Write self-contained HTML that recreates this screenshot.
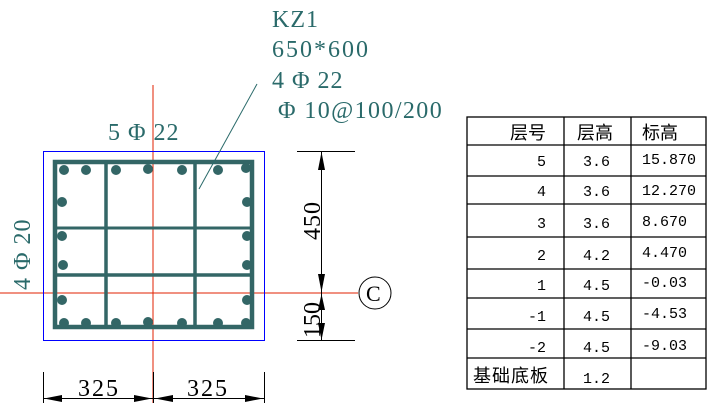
<!DOCTYPE html>
<html><head><meta charset="utf-8"><style>
html,body{margin:0;padding:0;background:#fff;}
svg{display:block;}
.t{font-family:"Liberation Serif","Noto Serif CJK SC",serif;fill:#2a6a6a;}
.m{font-family:"Liberation Mono","Noto Sans CJK SC",monospace;font-size:15px;fill:#000;}
.c{font-family:"Noto Sans CJK SC","WenQuanYi Zen Hei",sans-serif;font-size:18px;fill:#000;}
</style></head><body>
<svg width="717" height="403" viewBox="0 0 717 403">
<line x1="153" y1="85" x2="153" y2="403" stroke="#e02000" stroke-width="1"/>
<line x1="0" y1="293" x2="358" y2="293" stroke="#e02000" stroke-width="1"/>
<rect x="43.5" y="151.5" width="221" height="189" fill="none" stroke="#0000ff" stroke-width="1"/>
<g stroke="#336666" fill="none">
<rect x="55" y="162" width="197" height="165" stroke-width="4.5"/>
<line x1="106" y1="162" x2="106" y2="327" stroke-width="3.5"/>
<line x1="195" y1="162" x2="195" y2="327" stroke-width="3.5"/>
<line x1="55" y1="228" x2="252" y2="228" stroke-width="3"/>
<line x1="55" y1="275" x2="252" y2="275" stroke-width="3.5"/>
</g>
<g fill="#336666">
<circle cx="64" cy="170" r="5"/><circle cx="86" cy="170" r="5"/><circle cx="116" cy="170" r="5"/><circle cx="148" cy="169" r="5"/><circle cx="182" cy="170" r="5"/><circle cx="218" cy="170" r="5"/><circle cx="246" cy="168" r="5"/>
<circle cx="64" cy="323" r="5"/><circle cx="86" cy="323" r="5"/><circle cx="116" cy="323" r="5"/><circle cx="148" cy="322" r="5"/><circle cx="182" cy="323" r="5"/><circle cx="218" cy="323" r="5"/><circle cx="246" cy="323" r="5"/>
<circle cx="62" cy="202" r="5"/><circle cx="62" cy="236" r="5"/><circle cx="63" cy="265" r="5"/><circle cx="62" cy="300" r="5"/>
<circle cx="247" cy="202" r="5"/><circle cx="247" cy="236" r="5"/><circle cx="247" cy="265" r="5"/><circle cx="247" cy="300" r="5"/>
</g>
<line x1="257" y1="84" x2="199" y2="189" stroke="#2a6a6a" stroke-width="1"/>
<text class="t" x="272" y="27" font-size="24" letter-spacing="1">KZ1</text>
<text class="t" x="272" y="57" font-size="24" letter-spacing="2">650*600</text>
<text class="t" x="272" y="88" font-size="24" letter-spacing="1">4 Φ 22</text>
<text class="t" x="278" y="118" font-size="24" letter-spacing="1.4">Φ 10@100/200</text>
<text class="t" x="108" y="140" font-size="24" letter-spacing="1">5 Φ 22</text>
<text class="t" transform="translate(30,290) rotate(-90)" font-size="24" letter-spacing="1">4 Φ 20</text>
<g stroke="#000" stroke-width="1">
<line x1="297" y1="151.5" x2="355" y2="151.5"/>
<line x1="297" y1="340.5" x2="355" y2="340.5"/>
<line x1="321.5" y1="151" x2="321.5" y2="340"/>
<line x1="43.5" y1="372" x2="43.5" y2="403"/>
<line x1="153.5" y1="372" x2="153.5" y2="403"/>
<line x1="264.5" y1="372" x2="264.5" y2="403"/>
<line x1="43" y1="398.5" x2="264" y2="398.5"/>
</g>
<g fill="#000">
<polygon points="321.5,152 318,170 325,170"/>
<polygon points="321.5,292 318,274 325,274"/>
<polygon points="321.5,294 318,310 325,310"/>
<polygon points="321.5,340 318,323 325,323"/>
<polygon points="44,398.5 62,395 62,402"/>
<polygon points="152,398.5 134,395 134,402"/>
<polygon points="155,398.5 173,395 173,402"/>
<polygon points="263,398.5 245,395 245,402"/>
</g>
<text class="t" transform="translate(320,240) rotate(-90)" font-size="24" letter-spacing="1" style="fill:#000">450</text>
<text class="t" transform="translate(320,338) rotate(-90)" font-size="24" style="fill:#000">150</text>
<text class="t" x="78" y="396" font-size="24" letter-spacing="2" style="fill:#000">325</text>
<text class="t" x="187" y="396" font-size="24" letter-spacing="2" style="fill:#000">325</text>
<circle cx="375" cy="293" r="16" fill="#fff" stroke="#000" stroke-width="1"/>
<text class="t" x="366" y="301" font-size="22" style="fill:#000">C</text>
<g stroke="#000" stroke-width="1.3" fill="none">
<rect x="467" y="117" width="239" height="272"/>
<line x1="564" y1="117" x2="564" y2="389"/>
<line x1="631" y1="117" x2="631" y2="389"/>
<line x1="467" y1="145" x2="706" y2="145"/>
<line x1="467" y1="176" x2="706" y2="176"/>
<line x1="467" y1="204" x2="706" y2="204"/>
<line x1="467" y1="237" x2="706" y2="237"/>
<line x1="467" y1="269" x2="706" y2="269"/>
<line x1="467" y1="298" x2="706" y2="298"/>
<line x1="467" y1="329" x2="706" y2="329"/>
<line x1="467" y1="358" x2="706" y2="358"/>
</g>
<text class="c" x="510" y="139">层号</text>
<text class="c" x="577" y="139">层高</text>
<text class="c" x="642" y="139">标高</text>
<g class="m">
<text x="537" y="166">5</text><text x="537" y="196">4</text><text x="537" y="228">3</text><text x="537" y="260">2</text><text x="537" y="290">1</text><text x="528" y="321">-1</text><text x="528" y="352">-2</text>
<text x="583" y="166">3.6</text><text x="583" y="196">3.6</text><text x="583" y="228">3.6</text><text x="583" y="260">4.2</text><text x="583" y="290">4.5</text><text x="583" y="321">4.5</text><text x="583" y="352">4.5</text><text x="583" y="383">1.2</text>
<text x="642" y="164">15.870</text><text x="642" y="195">12.270</text><text x="642" y="226">8.670</text><text x="642" y="257">4.470</text><text x="642" y="287">-0.03</text><text x="642" y="318">-4.53</text><text x="642" y="350">-9.03</text>
</g>
<text class="c" x="473" y="382" letter-spacing="1">基础底板</text>
</svg>
</body></html>
